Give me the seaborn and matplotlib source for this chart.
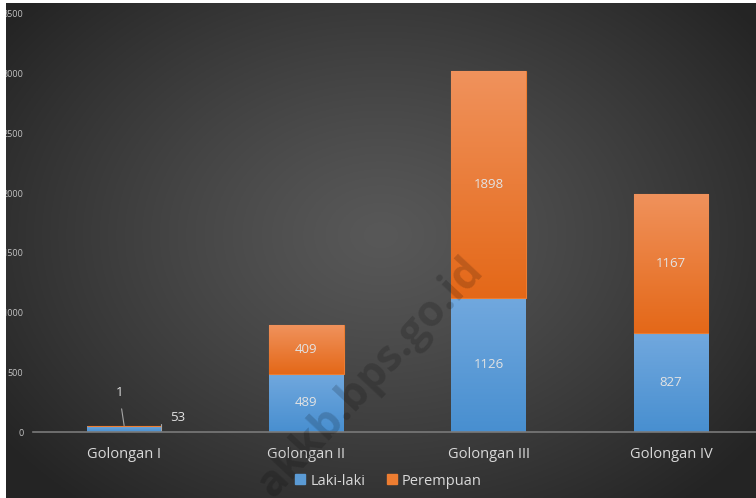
import numpy as np
import pandas as pd
import matplotlib
matplotlib.use('Agg')
import matplotlib.pyplot as plt
import seaborn as sns
from matplotlib.patches import Rectangle
from matplotlib.lines import Line2D

# Data
golongan = ['Golongan I', 'Golongan II', 'Golongan III', 'Golongan IV']
laki_laki = [53, 489, 1126, 827]
perempuan = [1, 409, 1898, 1167]
y_ticks = [0, 500, 1000, 1500, 2000, 2500, 3000, 3500]

df = pd.DataFrame({'golongan': golongan, 'laki': laki_laki, 'perempuan': perempuan})

sns.set_theme(style='white')
plt.rcParams['font.family'] = ['Open Sans', 'DejaVu Sans']

W, H = 756, 498
fig = plt.figure(figsize=(W / 100, H / 100), dpi=100, facecolor='white')

# --- background: dark radial gradient ---
bg = fig.add_axes([6 / W, 0, 1 - 6 / W, 1 - 3 / H], zorder=-5)
yy, xx = np.mgrid[0:1:300j, 0:1:450j]
r = np.sqrt(((xx - 0.5) / 0.62) ** 2 + ((yy - 0.47) / 0.7) ** 2)
r = np.clip(r, 0, 1)
shade = 0.345 - 0.2 * r ** 1.2
bg.imshow(np.dstack([shade, shade, shade]), aspect='auto', extent=[0, 1, 0, 1], origin='upper')
bg.axis('off')

# --- main axes ---
ax = fig.add_axes([33 / W, (H - 432) / H, (762 - 33) / W, (432 - 14) / H])
ax.set_facecolor('none')

sns.barplot(data=df, x='golongan', y='laki', color='#5b9bd5', width=0.41, ax=ax, saturation=1)
n_bl = len(ax.patches)
sns.barplot(data=df, x='golongan', y='perempuan', color='#ed7d31', width=0.41, ax=ax, saturation=1)

orange_top = np.array([240, 146, 92]) / 255
orange_bot = np.array([228, 104, 24]) / 255
blue_top = np.array([113, 168, 222]) / 255
blue_bot = np.array([72, 143, 208]) / 255


def grad(top, bot):
    t = np.linspace(0, 1, 100)[:, None]
    g = top[None, :] * (1 - t) + bot[None, :] * t
    return g[:, None, :]


for i, p in enumerate(ax.patches):
    x0, w = p.get_x(), p.get_width()
    if i >= n_bl:
        # stack Perempuan on top of Laki-laki
        p.set_y(laki_laki[i - n_bl])
        img = grad(orange_top, orange_bot)
        p.set_edgecolor('#ed7d31')
        p.set_linewidth(0.8)
        z = 2
    else:
        img = grad(blue_top, blue_bot)
        p.set_edgecolor('none')
        z = 1
    p.set_zorder(z)
    ybot, ytop = p.get_y(), p.get_y() + p.get_height()
    im = ax.imshow(img, extent=[x0, x0 + w, ybot, ytop], aspect='auto',
                   origin='upper', zorder=z + 0.5)
    im.set_clip_path(p)

ax.set_xlim(-0.5, 3.5)
ax.set_ylim(0, 3500)
ax.set_yticks(y_ticks)
ax.set_xlabel('')
ax.set_ylabel('')

for s in ['top', 'right', 'left']:
    ax.spines[s].set_visible(False)
ax.spines['bottom'].set_color('#7a7a7a')
ax.spines['bottom'].set_linewidth(1.2)
ax.spines['bottom'].set_zorder(5)
ax.tick_params(axis='x', length=0, pad=11, labelsize=10.5, labelcolor='#d9d9d9')
ax.tick_params(axis='y', length=0, pad=7, labelsize=6.5, labelcolor='#c4c4c4')

# --- data labels ---
lab_color = '#e3e3e3'
for i in range(1, len(golongan)):
    ax.text(i, laki_laki[i] / 2, str(laki_laki[i]), ha='center', va='center',
            fontsize=9.5, color=lab_color, zorder=6)
    ax.text(i, laki_laki[i] + perempuan[i] / 2, str(perempuan[i]), ha='center', va='center',
            fontsize=9.5, color=lab_color, zorder=6)

# small segments of Golongan I with leader lines
ax.annotate(str(perempuan[0]), xy=(0, laki_laki[0] + perempuan[0]), xytext=(-3.6, 24),
            textcoords='offset points', ha='center', va='center', fontsize=9.5,
            color=lab_color, zorder=6,
            arrowprops=dict(arrowstyle='-', color='#a6a6a6', lw=0.8, shrinkA=5, shrinkB=0))
ax.annotate(str(laki_laki[0]), xy=(0.205, laki_laki[0] * 0.3), xytext=(12, 9),
            textcoords='offset points', ha='center', va='center', fontsize=9.5,
            color=lab_color, zorder=6,
            arrowprops=dict(arrowstyle='-', color='#a6a6a6', lw=0.8, shrinkA=6, shrinkB=0,
                            connectionstyle='angle,angleA=0,angleB=90,rad=0'))

# --- watermark ---
fig.text(370 / W, 1 - 378 / H, 'akkb.bps.go.id', rotation=47, ha='center', va='center',
         fontsize=31, fontweight='bold', color='black', alpha=0.17, zorder=4,
         rotation_mode='anchor')

# --- legend ---
handles = [Line2D([], [], marker='s', linestyle='', markersize=7, color='#5b9bd5'),
           Line2D([], [], marker='s', linestyle='', markersize=7, color='#ed7d31')]
leg = fig.legend(handles, ['Laki-laki', 'Perempuan'], loc='center',
                 bbox_to_anchor=(388 / W, 1 - 481 / H), ncol=2, frameon=False,
                 fontsize=10.5, handlelength=0.8, handletextpad=0.3, columnspacing=1.4)
for t in leg.get_texts():
    t.set_color('#d9d9d9')

# white border on left / top edge cutting the axis labels
fig.patches.append(Rectangle((0, 0), 6 / W, 1, transform=fig.transFigure,
                             facecolor='white', edgecolor='none', zorder=20))
fig.patches.append(Rectangle((0, 1 - 3 / H), 1, 3 / H, transform=fig.transFigure,
                             facecolor='white', edgecolor='none', zorder=20))

fig.savefig('out.png', dpi=100, facecolor='white')
